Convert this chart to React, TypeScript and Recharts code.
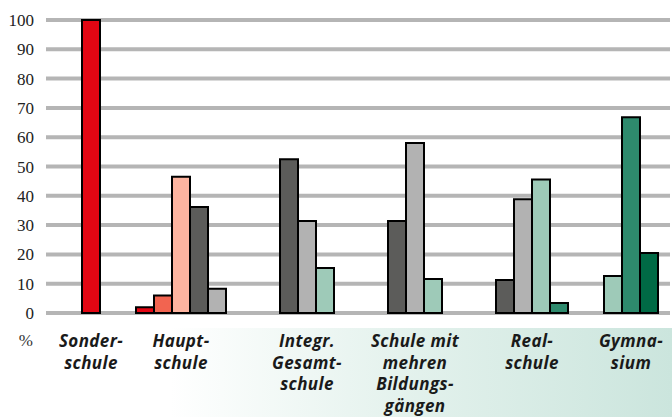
import { Bar, BarChart, CartesianGrid, Cell, XAxis, YAxis } from "recharts";

const CATEGORIES = [
  "Sonderschule",
  "Hauptschule",
  "Integr. Gesamtschule",
  "Schule mit mehren Bildungsgängen",
  "Realschule",
  "Gymnasium",
];

const CATEGORY_LINES = [
  ["Sonder-", "schule"],
  ["Haupt-", "schule"],
  ["Integr.", "Gesamt-", "schule"],
  ["Schule mit", "mehren", "Bildungs-", "gängen"],
  ["Real-", "schule"],
  ["Gymna-", "sium"],
];

// one array per colour series, one value per category (null = no bar)
const RED = [100, 2, null, null, null, null];
const CORAL = [null, 6, null, null, null, null];
const SALMON = [null, 46.5, null, null, null, null];
const DARK_GREY = [null, 36.2, 52.5, 31.4, 11.3, null];
const LIGHT_GREY = [null, 8.3, 31.4, 58, 38.8, null];
const LIGHT_GREEN = [null, null, 15.4, 11.6, 45.6, 12.6];
const MID_GREEN = [null, null, null, null, 3.4, 66.8];
const DARK_GREEN = [null, null, null, null, null, 20.5];

const SERIES: (number | null)[][] = [
  RED,
  CORAL,
  SALMON,
  DARK_GREY,
  LIGHT_GREY,
  LIGHT_GREEN,
  MID_GREEN,
  DARK_GREEN,
];

const SERIES_COLOURS = [
  "#e30613",
  "#f26450",
  "#fdb4a0",
  "#5c5c5a",
  "#b2b2b2",
  "#9ecab8",
  "#2e8a6d",
  "#006a45",
];

const Y_TICKS = [0, 10, 20, 30, 40, 50, 60, 70, 80, 90, 100];

// layout: empty slots in front of each group
const GAP_SLOTS = [2, 2, 3, 3, 3, 2];

const W = 672;
const H = 417;
const Y_AXIS_W = 46;
const RIGHT = 2;
const X_PAD_RIGHT = 12;
const SERIF = "'Liberation Serif', serif";

type Row = {
  id: string;
  value: number | null;
  fill: string;
  cat?: number;
  count?: number;
};

const rows: Row[] = [];
CATEGORIES.forEach((_, ci) => {
  for (let g = 0; g < GAP_SLOTS[ci]; g++) {
    rows.push({ id: `gap-${ci}-${g}`, value: null, fill: "none" });
  }
  const members = SERIES.map((vals, si) => ({ v: vals[ci], si })).filter(
    (m) => m.v != null
  );
  members.forEach((m, k) => {
    rows.push({
      id: `bar-${ci}-${m.si}`,
      value: m.v,
      fill: SERIES_COLOURS[m.si],
      cat: k === 0 ? ci : undefined,
      count: members.length,
    });
  });
});

const rowById: Record<string, Row> = {};
rows.forEach((r) => (rowById[r.id] = r));

const BAND = (W - Y_AXIS_W - RIGHT - X_PAD_RIGHT) / rows.length;

function GroupTick(props: any) {
  const { x, y, payload } = props;
  const row = rowById[payload.value];
  if (!row || row.cat === undefined) return <g />;
  const cx = x + ((row.count! - 1) * BAND) / 2;
  const lines = CATEGORY_LINES[row.cat];
  return (
    <text
      x={cx}
      y={y + 26}
      textAnchor="middle"
      fill="#1a1a1a"
      style={{
        fontFamily: "'Open Sans', sans-serif",
        fontWeight: 700,
        fontStyle: "italic",
        fontSize: 17,
        letterSpacing: 0.4,
      }}
    >
      {lines.map((l, i) => (
        <tspan key={i} x={cx} dy={i === 0 ? 0 : 21.5}>
          {l}
        </tspan>
      ))}
    </text>
  );
}

function SerifTick(props: any) {
  const { x, y, payload } = props;
  return (
    <text
      x={x}
      y={y}
      dy={6}
      textAnchor="end"
      fill="#222"
      style={{ fontFamily: SERIF, fontSize: 17 }}
    >
      {payload.value}
    </text>
  );
}

function PercentLabel(props: any) {
  const vb = props.viewBox;
  return (
    <text
      x={vb.x + vb.width - 13}
      y={vb.y + vb.height + 33}
      textAnchor="end"
      fill="#333"
      style={{ fontFamily: SERIF, fontSize: 17 }}
    >
      %
    </text>
  );
}

export default function App() {
  return (
    <div style={{ position: "absolute", left: 0, top: 0, width: W, height: H, background: "#fff" }}>
      <div
        style={{
          position: "absolute",
          left: 0,
          top: 328,
          width: W,
          height: H - 328,
          background:
            "linear-gradient(to right, #ffffff 0px, #ffffff 170px, #e4f2ed 400px, #cbe5dd 672px)",
        }}
      />
      <div style={{ position: "absolute", left: 0, top: 0 }}>
        <BarChart
          width={W}
          height={H}
          data={rows}
          margin={{ top: 20, right: RIGHT, bottom: 4, left: 0 }}
          barCategoryGap={0}
          barGap={0}
        >
          <CartesianGrid vertical={false} stroke="#b5b5b5" strokeWidth={4} />
          <XAxis
            dataKey="id"
            interval={0}
            axisLine={false}
            tickLine={false}
            height={100}
            padding={{ left: 0, right: X_PAD_RIGHT }}
            tick={<GroupTick />}
          />
          <YAxis
            width={Y_AXIS_W}
            domain={[0, 100]}
            ticks={Y_TICKS}
            interval={0}
            axisLine={false}
            tickLine={false}
            tickMargin={6}
            tick={<SerifTick />}
            label={<PercentLabel />}
          />
          <Bar dataKey="value" stroke="#000" strokeWidth={2} isAnimationActive={false}>
            {rows.map((r) => (
              <Cell key={r.id} fill={r.fill} />
            ))}
          </Bar>
        </BarChart>
      </div>
    </div>
  );
}
